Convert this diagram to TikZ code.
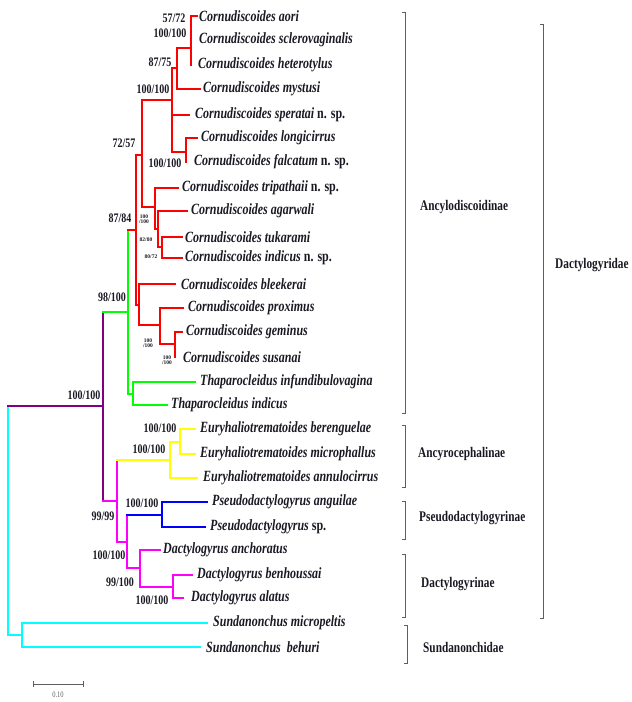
\documentclass[tikz,border=0pt]{standalone}
\usepackage{fontspec}
\setmainfont{Liberation Serif}
\definecolor{cRed}{RGB}{255,0,0}
\definecolor{cGreen}{RGB}{0,255,0}
\definecolor{cPurple}{RGB}{128,0,128}
\definecolor{cMag}{RGB}{255,0,255}
\definecolor{cYel}{RGB}{255,255,0}
\definecolor{cBlue}{RGB}{0,0,255}
\definecolor{cCyan}{RGB}{0,255,255}
\definecolor{txt}{RGB}{25,25,35}
\definecolor{brk}{RGB}{95,95,95}
\newcommand{\vs}[1]{\scalebox{1}[1.3]{#1}}
\newcommand{\hbr}[3]{\draw[tree,#1] (#2 |- #3) -- (#3);}
\newcommand{\vbr}[4]{\draw[tree,#1] (#2 |- #3) -- (#2 |- #4);}
\tikzset{
  tree/.style={line width=2.8pt, line cap=rect},
  leaf/.style={anchor=west, inner sep=0pt, text=txt, font=\fontsize{12}{12}\selectfont\bfseries\itshape},
  bslab/.style={inner sep=0pt, text=txt, font=\fontsize{10}{10}\selectfont\bfseries},
  tinylab/.style={inner sep=0pt, text=txt, align=center, font=\fontsize{5.5}{5.5}\selectfont\bfseries},
  cladelab/.style={anchor=west, inner sep=0pt, text=txt, font=\fontsize{11.3}{11}\selectfont\bfseries},
  brack/.style={draw=brk, line width=0.9pt},
}
\begin{document}
\begin{tikzpicture}[x=1pt,y=-1pt]
\useasboundingbox (0,0) rectangle (632,702);
% ---- leaf tips ----
\coordinate (e1) at (197,16);  \coordinate (e2) at (191,40);  \coordinate (e3) at (191,65);
\coordinate (e4) at (200,89);  \coordinate (e5) at (189,115); \coordinate (e6) at (197,138);
\coordinate (e7) at (186,162); \coordinate (e8) at (178,188); \coordinate (e9) at (187,211);
\coordinate (e10) at (182,237); \coordinate (e11) at (182,258); \coordinate (e12) at (175,284);
\coordinate (e13) at (183,308); \coordinate (e14) at (182,332); \coordinate (e15) at (175,357);
\coordinate (e16) at (195,382); \coordinate (e17) at (167,405); \coordinate (e18) at (195,429);
\coordinate (e19) at (195,454); \coordinate (e20) at (197,478); \coordinate (e21) at (207,502);
\coordinate (e22) at (205,527); \coordinate (e23) at (160,550); \coordinate (e24) at (192,575);
\coordinate (e25) at (183,598); \coordinate (e26) at (207,623); \coordinate (e27) at (200,647);
% ---- internal nodes ----
\coordinate (nA) at (191,48);  \coordinate (nB) at (177,68);  \coordinate (nC) at (172,100);
\coordinate (nD) at (186,152); \coordinate (nE) at (142,155); \coordinate (nF) at (155,207);
\coordinate (nG) at (158,229); \coordinate (nH) at (162,247); \coordinate (nI) at (136,230);
\coordinate (nJ) at (139,305); \coordinate (nK) at (160,325); \coordinate (nL) at (175,344);
\coordinate (gA) at (128,312); \coordinate (gB) at (133,394);
\coordinate (pA) at (103,406);
\coordinate (mA) at (117,501); \coordinate (mB) at (127,542); \coordinate (mC) at (140,568); \coordinate (mD) at (173,587);
\coordinate (yA) at (170,460); \coordinate (yB) at (180,442);
\coordinate (bA) at (162,515);
\coordinate (rt) at (8,520);   \coordinate (cA) at (22,635);
% ---- red clade ----
\vbr{cRed}{nA}{e1}{e3} \hbr{cRed}{nA}{e1}
\vbr{cRed}{nB}{nA}{e4} \hbr{cRed}{nB}{nA} \hbr{cRed}{nB}{e4}
\vbr{cRed}{nC}{nB}{nD} \hbr{cRed}{nC}{nB} \hbr{cRed}{nC}{e5} \hbr{cRed}{nC}{nD}
\vbr{cRed}{nD}{e6}{e7} \hbr{cRed}{nD}{e6}
\vbr{cRed}{nE}{nC}{nF} \hbr{cRed}{nE}{nC} \hbr{cRed}{nE}{nF}
\vbr{cRed}{nF}{e8}{nG} \hbr{cRed}{nF}{e8} \hbr{cRed}{nF}{nG}
\vbr{cRed}{nG}{e9}{nH} \hbr{cRed}{nG}{e9} \hbr{cRed}{nG}{nH}
\vbr{cRed}{nH}{e10}{e11} \hbr{cRed}{nH}{e10} \hbr{cRed}{nH}{e11}
\vbr{cRed}{nI}{nE}{nJ} \hbr{cRed}{nI}{nE} \hbr{cRed}{nI}{nJ}
\vbr{cRed}{nJ}{e12}{nK} \hbr{cRed}{nJ}{e12} \hbr{cRed}{nJ}{nK}
\vbr{cRed}{nK}{e13}{nL} \hbr{cRed}{nK}{e13} \hbr{cRed}{nK}{nL}
\vbr{cRed}{nL}{e14}{e15} \hbr{cRed}{nL}{e14}
% ---- green ----
\vbr{cGreen}{gA}{nI}{gB} \hbr{cRed}{gA}{nI} \hbr{cGreen}{gA}{gB}
\vbr{cGreen}{gB}{e16}{e17} \hbr{cGreen}{gB}{e16} \hbr{cGreen}{gB}{e17}
% ---- purple ----
\vbr{cPurple}{pA}{gA}{mA} \hbr{cGreen}{pA}{gA} \hbr{cMag}{pA}{mA}
% ---- magenta / yellow / blue ----
\vbr{cMag}{mA}{yA}{mB} \hbr{cYel}{mA}{yA} \hbr{cMag}{mA}{mB}
\vbr{cYel}{yA}{yB}{e20} \hbr{cYel}{yA}{yB} \hbr{cYel}{yA}{e20}
\vbr{cYel}{yB}{e18}{e19} \hbr{cYel}{yB}{e18} \hbr{cYel}{yB}{e19}
\vbr{cMag}{mB}{bA}{mC} \hbr{cBlue}{mB}{bA} \hbr{cMag}{mB}{mC}
\vbr{cBlue}{bA}{e21}{e22} \hbr{cBlue}{bA}{e21} \hbr{cBlue}{bA}{e22}
\vbr{cMag}{mC}{e23}{mD} \hbr{cMag}{mC}{e23} \hbr{cMag}{mC}{mD}
\vbr{cMag}{mD}{e24}{e25} \hbr{cMag}{mD}{e24} \hbr{cMag}{mD}{e25}
% ---- root / cyan ----
\vbr{cCyan}{rt}{pA}{cA} \hbr{cPurple}{rt}{pA} \hbr{cCyan}{rt}{cA}
\vbr{cCyan}{cA}{e26}{e27} \hbr{cCyan}{cA}{e26} \hbr{cCyan}{cA}{e27}
% ---- leaf labels ----
\node[leaf] (t1) at (199,16) {\vs{Cornudiscoides aori}};
\node[leaf] (t2) at (199,40) {\vs{Cornudiscoides sclerovaginalis}};
\node[leaf] (t3) at (198,65) {\vs{Cornudiscoides heterotylus}};
\node[leaf] (t4) at (203,89) {\vs{Cornudiscoides mystusi}};
\node[leaf] (t5) at (195,115) {\vs{Cornudiscoides speratai \upshape n. sp.}};
\node[leaf] (t6) at (201,138) {\vs{Cornudiscoides longicirrus}};
\node[leaf] (t7) at (194,162) {\vs{Cornudiscoides falcatum \upshape n. sp.}};
\node[leaf] (t8) at (182,188) {\vs{Cornudiscoides tripathaii \upshape n. sp.}};
\node[leaf] (t9) at (191,211) {\vs{Cornudiscoides agarwali}};
\node[leaf] (t10) at (185,237) {\vs{Cornudiscoides tukarami}};
\node[leaf] (t11) at (185,258) {\vs{Cornudiscoides indicus \upshape n. sp.}};
\node[leaf] (t12) at (181,284) {\vs{Cornudiscoides bleekerai}};
\node[leaf] (t13) at (188,308) {\vs{Cornudiscoides proximus}};
\node[leaf] (t14) at (186,332) {\vs{Cornudiscoides geminus}};
\node[leaf] (t15) at (183,357) {\vs{Cornudiscoides susanai}};
\node[leaf] (t16) at (200,382) {\vs{Thaparocleidus infundibulovagina}};
\node[leaf] (t17) at (171,405) {\vs{Thaparocleidus indicus}};
\node[leaf] (t18) at (200,429) {\vs{Euryhaliotrematoides berenguelae}};
\node[leaf] (t19) at (200,454) {\vs{Euryhaliotrematoides microphallus}};
\node[leaf] (t20) at (203,478) {\vs{Euryhaliotrematoides annulocirrus}};
\node[leaf] (t21) at (212,502) {\vs{Pseudodactylogyrus anguilae}};
\node[leaf] (t22) at (210,527) {\vs{Pseudodactylogyrus \upshape sp.}};
\node[leaf] (t23) at (163,550) {\vs{Dactylogyrus anchoratus}};
\node[leaf] (t24) at (197,575) {\vs{Dactylogyrus benhoussai}};
\node[leaf] (t25) at (191,598) {\vs{Dactylogyrus alatus}};
\node[leaf] (t26) at (213,623) {\vs{Sundanonchus micropeltis}};
\node[leaf] (t27) at (206,647) {\vs{Sundanonchus\ \ behuri}};
% ---- support values ----
\node[bslab] (s1) at (174,18) {\vs{57/72}};
\node[bslab] (s2) at (170,33) {\vs{100/100}};
\node[bslab] (s3) at (160,62) {\vs{87/75}};
\node[bslab] (s4) at (153,89) {\vs{100/100}};
\node[bslab] (s5) at (124,143) {\vs{72/57}};
\node[bslab] (s6) at (165,163) {\vs{100/100}};
\node[bslab] (s7) at (120,218) {\vs{87/84}};
\node[tinylab] (s8) at (144,219) {100\\/100};
\node[tinylab] (s9) at (146,240) {82/80};
\node[tinylab] (s10) at (151,257) {80/72};
\node[bslab] (s11) at (112,297) {\vs{98/100}};
\node[tinylab] (s12) at (148,343) {100\\/100};
\node[tinylab] (s13) at (167,360) {100\\/100};
\node[bslab] (s14) at (84,395) {\vs{100/100}};
\node[bslab] (s15) at (160,428) {\vs{100/100}};
\node[bslab] (s16) at (149,449) {\vs{100/100}};
\node[bslab] (s17) at (142,503) {\vs{100/100}};
\node[bslab] (s18) at (103,516) {\vs{99/99}};
\node[bslab] (s19) at (109,555) {\vs{100/100}};
\node[bslab] (s20) at (120,582) {\vs{99/100}};
\node[bslab] (s21) at (152,600) {\vs{100/100}};
% ---- brackets and clade names ----
\draw[brack] (402,12) -- (405,12) -- (405,413) -- (402,413);
\draw[brack] (540,24) -- (543,24) -- (543,618) -- (540,618);
\draw[brack] (402,425) -- (405,425) -- (405,487) -- (402,487);
\draw[brack] (402,501) -- (405,501) -- (405,539) -- (402,539);
\draw[brack] (402,554) -- (405,554) -- (405,617) -- (402,617);
\draw[brack] (404,625) -- (407,625) -- (407,663) -- (404,663);
\node[cladelab] (k1) at (420,207) {\vs{Ancylodiscoidinae}};
\node[cladelab] (k2) at (555,265) {\vs{Dactylogyridae}};
\node[cladelab] (k3) at (418,454) {\vs{Ancyrocephalinae}};
\node[cladelab] (k4) at (419,518) {\vs{Pseudodactylogyrinae}};
\node[cladelab] (k5) at (421,584) {\vs{Dactylogyrinae}};
\node[cladelab] (k6) at (423,647) {\vs{Sundanonchidae}};
% ---- scale bar ----
\draw[brk, line width=1pt] (33,681) -- (33,687) (33,684) -- (83,684) (83,681) -- (83,687);
\node[inner sep=0pt, text=brk, font=\fontsize{6.5}{6.5}\selectfont] (sc) at (58,695) {\vs{0.10}};
\end{tikzpicture}
\end{document}
